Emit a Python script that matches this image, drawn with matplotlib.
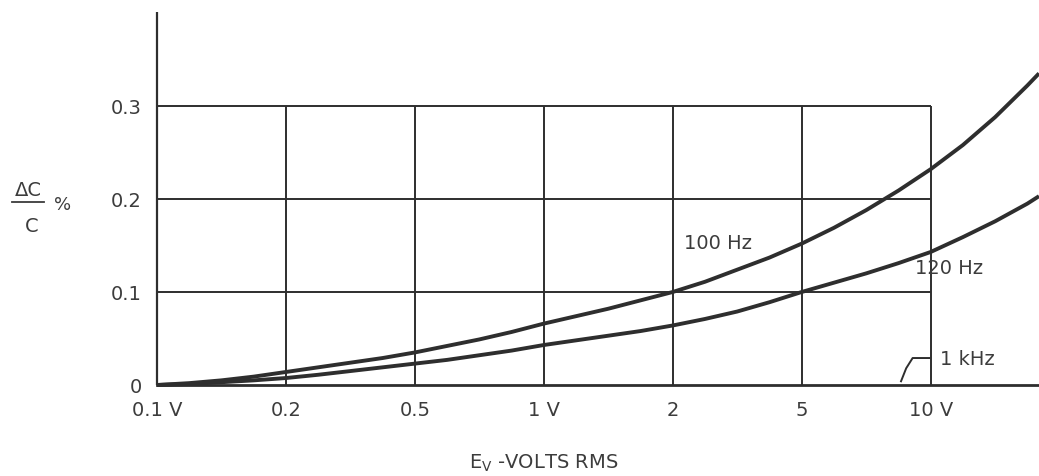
import matplotlib.pyplot as plt

# positions along the (evenly spaced) voltage axis
x_labels = ["0.1 V", "0.2", "0.5", "1 V", "2", "5", "10 V"]
pos = [0, 0.25, 0.5, 0.75, 1, 1.25, 1.5, 1.75, 2, 2.25, 2.5, 2.75, 3, 3.25, 3.5, 3.75,
       4, 4.25, 4.5, 4.75, 5, 5.25, 5.5, 5.75, 6, 6.25, 6.5, 6.75, 6.84]

# dC/C %
hz100 = [0, 0.002, 0.005, 0.009, 0.014, 0.019, 0.024, 0.029, 0.035, 0.042, 0.049, 0.057,
         0.066, 0.074, 0.082, 0.091, 0.100, 0.111, 0.124, 0.137, 0.152, 0.169, 0.188, 0.209,
         0.232, 0.258, 0.288, 0.322, 0.335]
hz120 = [0, 0.001, 0.003, 0.005, 0.0075, 0.011, 0.015, 0.019, 0.023, 0.027, 0.032, 0.037,
         0.043, 0.048, 0.053, 0.058, 0.064, 0.071, 0.079, 0.089, 0.100, 0.110, 0.120, 0.131,
         0.143, 0.159, 0.176, 0.195, 0.203]
khz1 = [0] * len(pos)

ink = "#2e2e2e"
txt = "#3c3c3c"
fs = 14

fig = plt.figure(figsize=(10.39, 4.77), dpi=100)
ax = fig.add_axes([157 / 1039, 91 / 477, 1 - 157 / 1039, 373 / 477])
ax.set_xlim(0, 6.84)
ax.set_ylim(0, 0.401)
for s in ax.spines.values():
    s.set_visible(False)

# grid box
ax.vlines(0, 0, 0.401, color=ink, lw=1.6, clip_on=False)
ax.hlines([0.1, 0.2, 0.3], 0, 6, color=ink, lw=1.4)
ax.vlines(range(1, 7), 0, 0.3, color=ink, lw=1.4)

ax.plot(pos, khz1, color=ink, lw=2.0, clip_on=False)
ax.plot(pos, hz120, color=ink, lw=2.8, clip_on=False, solid_capstyle="butt")
ax.plot(pos, hz100, color=ink, lw=2.8, clip_on=False, solid_capstyle="butt")

ax.set_xticks(range(7), x_labels)
ax.set_yticks([0, 0.1, 0.2, 0.3], ["0", "0.1", "0.2", "0.3"])
ax.tick_params(length=0, labelsize=fs, colors=txt)
ax.tick_params(axis="x", pad=11)
ax.tick_params(axis="y", pad=11)

# curve labels
ax.text(4.09, 0.153, "100 Hz", fontsize=fs, color=txt, va="center")
ax.text(5.88, 0.126, "120 Hz", fontsize=fs, color=txt, va="center")
ax.text(6.07, 0.029, "1 kHz", fontsize=fs, color=txt, va="center")
ax.plot([5.77, 5.81, 5.86, 5.99], [0.004, 0.018, 0.029, 0.029], color=ink, lw=1.4)

# axis titles
fig.text(28 / 1039, 1 - 190 / 477, "\u0394C", fontsize=fs, color=txt, ha="center", va="center")
fig.text(32 / 1039, 1 - 227 / 477, "C", fontsize=fs, color=txt, ha="center", va="center")
fig.add_artist(plt.Line2D([12 / 1039, 44 / 1039], [1 - 203 / 477, 1 - 203 / 477], color=txt, lw=1.3))
fig.text(63 / 1039, 1 - 205 / 477, "%", fontsize=13, color=txt, ha="center", va="center")
fig.text(544 / 1039, 1 - 463 / 477, r"E$_\mathregular{V}$ -VOLTS RMS", fontsize=fs, color=txt,
         ha="center", va="center")

fig.savefig("out.png", dpi=100, facecolor="white")
